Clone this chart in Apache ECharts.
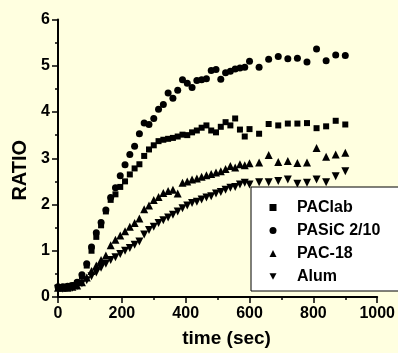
<!DOCTYPE html>
<html>
<head>
<meta charset="utf-8">
<script src="https://cdn.jsdelivr.net/npm/echarts@6/dist/echarts.min.js"></script>
<style>
html,body{margin:0;padding:0;background:#FFFFE0;}
#chart{width:398px;height:353px;}
</style>
</head>
<body>
<div id="chart"></div>
<script>
// time (sec)
var times = [0,15,30,45,60,75,90,105,120,135,150,165,180,195,210,225,240,255,270,285,300,315,330,345,360,375,390,405,420,435,450,465,480,495,510,525,540,555,570,585,600,630,660,690,720,750,780,810,840,870,900];
var seriesNames = ['PAClab','PASiC 2/10','PAC-18','Alum'];
var paclab = [0.2,0.2,0.22,0.25,0.3,0.45,0.68,1.0,1.3,1.55,1.85,2.1,2.22,2.38,2.5,2.65,2.78,2.87,3.05,3.19,3.28,3.37,3.40,3.42,3.44,3.47,3.51,3.50,3.56,3.60,3.66,3.71,3.60,3.56,3.68,3.78,3.71,3.86,3.62,3.47,3.63,3.53,3.74,3.71,3.75,3.75,3.76,3.65,3.69,3.81,3.73];
var pasic = [0.22,0.22,0.23,0.25,0.32,0.48,0.72,1.08,1.39,1.61,1.88,2.15,2.36,2.62,2.86,3.08,3.26,3.53,3.76,3.73,3.86,4.06,4.16,4.41,4.30,4.47,4.70,4.62,4.53,4.68,4.70,4.72,4.90,4.92,4.71,4.85,4.88,4.93,4.95,4.97,5.10,4.97,5.14,5.20,5.15,5.16,5.08,5.36,5.11,5.23,5.22];
var pac18 = [0.2,0.2,0.2,0.22,0.25,0.32,0.42,0.56,0.68,0.8,0.9,1.12,1.24,1.33,1.42,1.52,1.6,1.7,1.9,1.98,2.1,2.16,2.25,2.29,2.32,2.24,2.47,2.50,2.54,2.56,2.60,2.63,2.66,2.69,2.72,2.77,2.83,2.80,2.87,2.85,2.89,2.91,3.07,2.92,2.94,2.90,2.91,3.22,3.03,3.08,3.12];
var alum = [0.18,0.18,0.2,0.2,0.24,0.3,0.36,0.45,0.53,0.63,0.72,0.8,0.86,0.93,1.0,1.06,1.13,1.2,1.35,1.45,1.52,1.6,1.66,1.72,1.78,1.85,1.92,1.98,2.03,2.06,2.11,2.15,2.18,2.24,2.27,2.32,2.36,2.38,2.43,2.47,2.43,2.48,2.48,2.51,2.54,2.45,2.47,2.54,2.48,2.61,2.72];
var xTicks = {min:0, max:1000, interval:200};
var yTicks = {min:0, max:6, interval:1};

function pairs(vals){ return times.map(function(t,i){ return [t, vals[i]]; }); }
var FONT = "'Liberation Sans', Arial, sans-serif";
var DOWN_TRI = 'path://M0,0 L10,0 L5,9 Z';
var chart = echarts.init(document.getElementById('chart'), null, {renderer:'canvas'});
var axisCommon = {
  splitLine:{show:false},
  axisLine:{show:true, lineStyle:{color:'#000', width:2}},
  axisTick:{show:true, length:6, lineStyle:{color:'#000', width:1.5}},
  minorTick:{show:true, splitNumber:2, length:3, lineStyle:{color:'#000', width:1.5}}
};
chart.setOption({
  animation:false,
  backgroundColor:'#FFFFE0',
  grid:{left:58, right:19, top:19.5, bottom:55, containLabel:false},
  xAxis:Object.assign({
    type:'value', min:xTicks.min, max:xTicks.max, interval:xTicks.interval,
    name:'time (sec)', nameLocation:'middle', nameGap:32,
    nameTextStyle:{fontSize:19, fontWeight:'bold', color:'#000', fontFamily:FONT, padding:[0,0,0,18]},
    axisLabel:{fontSize:16, fontWeight:'bold', color:'#000', fontFamily:FONT, margin:9,
      formatter:function(v){ return String(v); }}
  }, axisCommon),
  yAxis:Object.assign({
    type:'value', min:yTicks.min, max:yTicks.max, interval:yTicks.interval,
    name:'RATIO', nameLocation:'middle', nameGap:27,
    nameTextStyle:{fontSize:20, fontWeight:'bold', color:'#000', fontFamily:FONT, padding:[0,24,0,0]},
    axisLabel:{fontSize:16, fontWeight:'bold', color:'#000', fontFamily:FONT, margin:8,
      formatter:function(v){ return String(v); }}
  }, axisCommon),
  legend:{
    orient:'vertical', left:251, top:187,
    itemWidth:7, itemHeight:7, itemGap:6,
    padding:[12,30,6,18.5],
    backgroundColor:'#fff', borderColor:'#000', borderWidth:1, borderRadius:0,
    textStyle:{fontSize:16, fontWeight:'bold', color:'#000', fontFamily:FONT, lineHeight:17, padding:[0,0,0,15.5]},
    data:[
      {name:seriesNames[0], icon:'rect'},
      {name:seriesNames[1], icon:'circle'},
      {name:seriesNames[2], icon:'triangle'},
      {name:seriesNames[3], icon:DOWN_TRI}
    ]
  },
  series:[
    {name:seriesNames[0], type:'scatter', symbol:'rect', symbolSize:6, itemStyle:{color:'#000', opacity:1}, data:pairs(paclab)},
    {name:seriesNames[1], type:'scatter', symbol:'circle', symbolSize:7, itemStyle:{color:'#000', opacity:1}, data:pairs(pasic)},
    {name:seriesNames[2], type:'scatter', symbol:'triangle', symbolSize:8, itemStyle:{color:'#000', opacity:1}, data:pairs(pac18)},
    {name:seriesNames[3], type:'scatter', symbol:'triangle', symbolRotate:180, symbolSize:8, itemStyle:{color:'#000', opacity:1}, data:pairs(alum)}
  ]
});
</script>
</body>
</html>
